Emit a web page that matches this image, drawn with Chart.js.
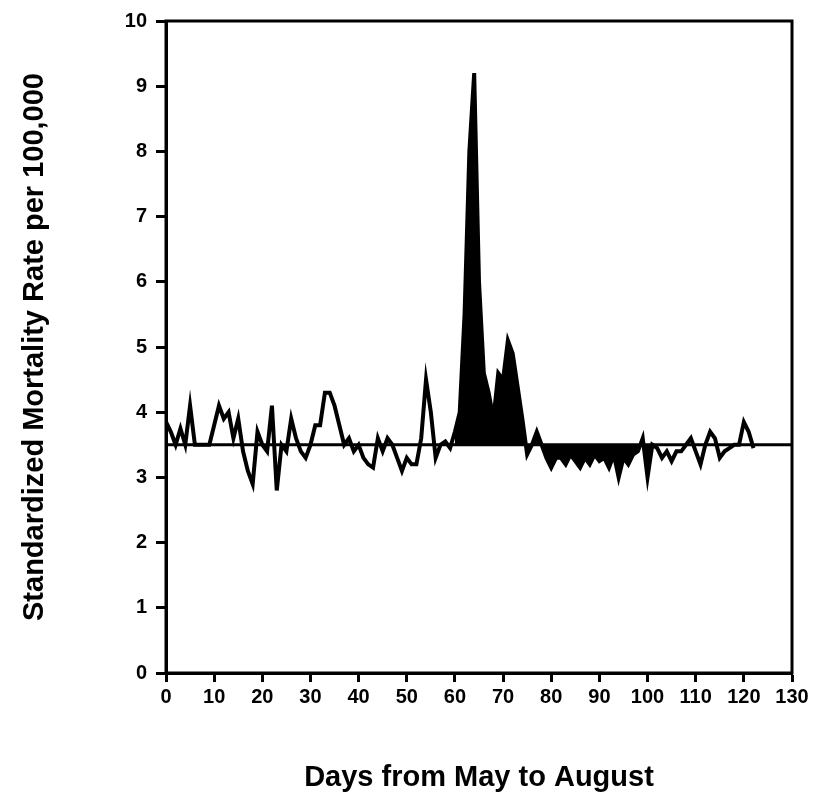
<!DOCTYPE html>
<html>
<head>
<meta charset="utf-8">
<script src="https://cdn.jsdelivr.net/npm/chart.js@4.4.1/dist/chart.umd.min.js"></script>
<style>
  html, body { margin: 0; padding: 0; background: #fff; }
  #wrap { width: 824px; height: 803px; }
</style>
</head>
<body>
<div id="wrap"><canvas id="mortalityChart" width="824" height="803"></canvas></div>
<script>
// Données (jour 0 = début mai)
const days = [];
for (let d = 0; d <= 122; d++) days.push(d);

const rates = [
  3.85, 3.7, 3.5, 3.75, 3.5, 4.1, 3.5, 3.5, 3.5, 3.5,
  3.8, 4.1, 3.9, 4.0, 3.6, 3.9, 3.4, 3.1, 2.9, 3.7,
  3.5, 3.4, 4.1, 2.8, 3.5, 3.4, 3.9, 3.6, 3.4, 3.3,
  3.5, 3.8, 3.8, 4.3, 4.3, 4.1, 3.8, 3.5, 3.6, 3.4,
  3.5, 3.3, 3.2, 3.15, 3.6, 3.4, 3.6, 3.5, 3.3, 3.1,
  3.3, 3.2, 3.2, 3.6, 4.5, 4.0, 3.3, 3.5, 3.55, 3.45,
  3.7, 4.0, 5.5, 8.0, 9.2, 6.0, 4.6, 4.3, 3.9, 4.6,
  4.5, 5.1, 4.9, 4.4, 3.9, 3.35, 3.5, 3.7, 3.5, 3.3,
  3.15, 3.3, 3.3, 3.2, 3.35, 3.25, 3.15, 3.3, 3.2, 3.35,
  3.25, 3.3, 3.15, 3.35, 3.0, 3.3, 3.2, 3.35, 3.4, 3.6,
  3.0, 3.5, 3.45, 3.3, 3.4, 3.25, 3.4, 3.4, 3.5, 3.6,
  3.4, 3.2, 3.5, 3.7, 3.6, 3.3, 3.4, 3.45, 3.5, 3.5,
  3.85, 3.7, 3.45
];

const baseline = 3.5;       // taux de référence
const fillFrom = 60;        // période ombrée (vague de chaleur)
const fillTo = 101;

const xTicks = [0, 130, 10];  // min, max, pas
const yTicks = [0, 10, 1];

const points = days.map((d, i) => ({ x: d, y: rates[i] }));
const shaded = points.filter(p => p.x >= fillFrom && p.x <= fillTo);

// Cadre autour de la zone du graphique
const frame = {
  id: 'frame',
  afterDatasetsDraw(chart) {
    const { ctx, chartArea: a } = chart;
    ctx.save();
    ctx.strokeStyle = '#000';
    ctx.lineWidth = 3;
    ctx.strokeRect(a.left, a.top, a.right - a.left, a.bottom - a.top);
    ctx.restore();
  }
};

const tickFont = { family: "'Liberation Sans', Arial, sans-serif", size: 20, weight: 'bold' };
const titleFont = { family: "'Liberation Sans', Arial, sans-serif", size: 29, weight: 'bold' };

const ctx = document.getElementById('mortalityChart').getContext('2d');
const mortalityChart = new Chart(ctx, {
  type: 'line',
  data: {
    datasets: [
      {
        label: 'Zone',
        data: shaded,
        borderWidth: 0,
        pointRadius: 0,
        backgroundColor: '#000',
        fill: { value: baseline },
      },
      {
        label: 'Taux',
        data: points,
        borderColor: '#000',
        borderWidth: 4,
        pointRadius: 0,
        tension: 0,
        fill: false,
      },
      {
        label: 'Référence',
        data: [{ x: xTicks[0], y: baseline }, { x: xTicks[1], y: baseline }],
        borderColor: '#000',
        borderWidth: 3,
        pointRadius: 0,
        fill: false,
      },
    ],
  },
  options: {
    responsive: false,
    animation: false,
    layout: { padding: { top: 20, right: 32, left: 0, bottom: 0 } },
    plugins: {
      legend: { display: false },
      tooltip: { enabled: false },
    },
    scales: {
      x: {
        type: 'linear',
        min: xTicks[0],
        max: xTicks[1],
        afterFit(scale) { scale.height = 130; },
        ticks: { stepSize: xTicks[2], color: '#000', font: tickFont, padding: 3, maxRotation: 0, autoSkip: false },
        grid: { drawOnChartArea: false, tickLength: 9, tickWidth: 3, tickColor: '#000' },
        border: { display: true, color: '#000', width: 3 },
        title: { display: true, text: 'Days from May to August', color: '#000', font: titleFont, padding: { bottom: 8 } },
      },
      y: {
        min: yTicks[0],
        max: yTicks[1],
        afterFit(scale) { scale.width = 166; },
        ticks: { stepSize: yTicks[2], color: '#000', font: tickFont, padding: 9 },
        grid: { drawOnChartArea: false, tickLength: 10, tickWidth: 3, tickColor: '#000' },
        border: { display: true, color: '#000', width: 3 },
        title: { display: true, text: 'Standardized Mortality Rate per 100,000', color: '#000', font: titleFont, padding: { top: 18 } },
      },
    },
  },
  plugins: [frame],
});
</script>
</body>
</html>
